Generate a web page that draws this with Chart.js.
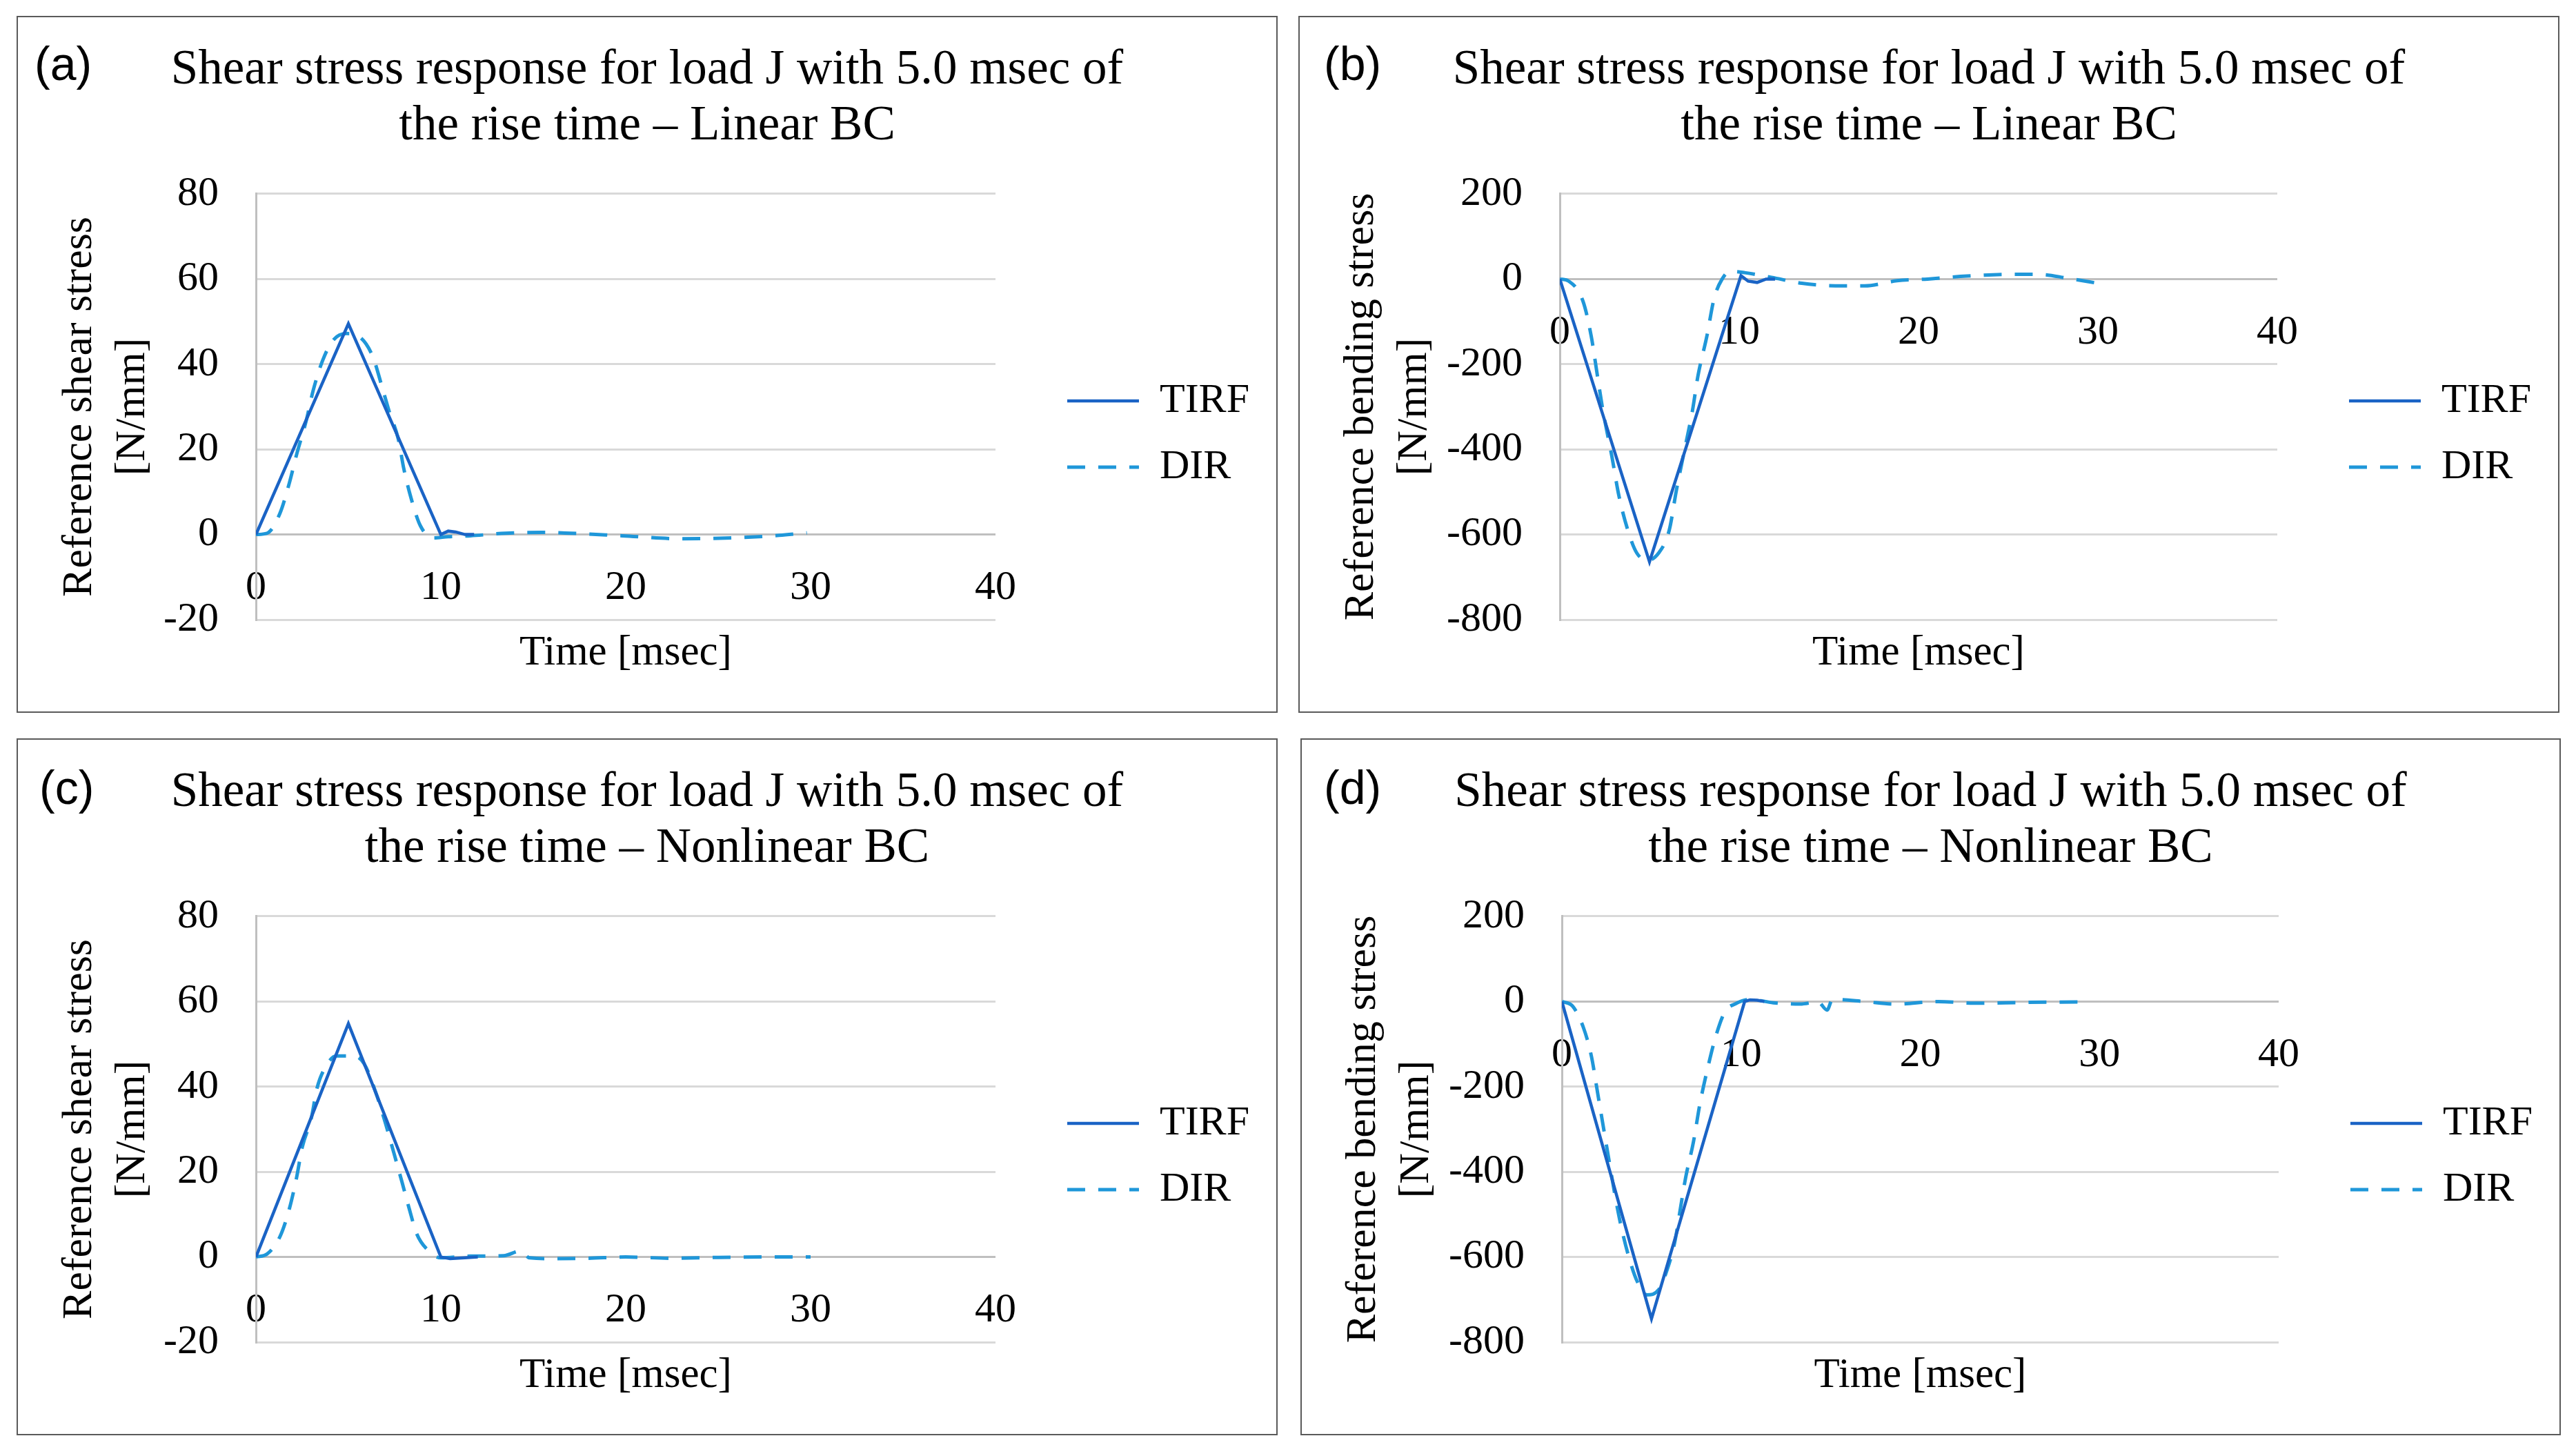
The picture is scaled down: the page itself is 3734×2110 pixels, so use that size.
<!DOCTYPE html>
<html>
<head>
<meta charset="utf-8">
<script src="https://cdn.jsdelivr.net/npm/chart.js@4/dist/chart.umd.min.js"></script>
<style>
  body { margin: 0; background: #fff; width: 3734px; height: 2110px; position: relative; overflow: hidden; }
  .frame { position: absolute; box-sizing: border-box; border: 2px solid #5a5a5a; z-index: 2; }
  .box { position: absolute; }
  .tag { position: absolute; font: 68px "Liberation Sans", Arial, sans-serif; line-height: 68px; color: #000; z-index: 3; }
</style>
</head>
<body>

<div class="box" style="left:24px;top:23px;width:1828px;height:1010px"><canvas id="chart-a"></canvas></div>
<div class="frame" style="left:24px;top:23px;width:1828px;height:1010px"></div>
<div class="tag" style="left:50px;top:58px">(a)</div>

<div class="box" style="left:1882px;top:23px;width:1828px;height:1010px"><canvas id="chart-b"></canvas></div>
<div class="frame" style="left:1882px;top:23px;width:1828px;height:1010px"></div>
<div class="tag" style="left:1919px;top:58px">(b)</div>

<div class="box" style="left:24px;top:1070px;width:1828px;height:1010px"><canvas id="chart-c"></canvas></div>
<div class="frame" style="left:24px;top:1070px;width:1828px;height:1010px"></div>
<div class="tag" style="left:57px;top:1107px">(c)</div>

<div class="box" style="left:1885px;top:1070px;width:1827px;height:1010px"><canvas id="chart-d"></canvas></div>
<div class="frame" style="left:1885px;top:1070px;width:1827px;height:1010px"></div>
<div class="tag" style="left:1919px;top:1107px">(d)</div>

<script>
'use strict';

// axis ticks
var timeTicks = [0, 10, 20, 30, 40];
var shearTicks = [-20, 0, 20, 40, 60, 80];
var bendTicks = [-800, -600, -400, -200, 0, 200];

// (a) shear, linear BC
var aTirfTime = [0, 5, 10, 10.4, 10.8, 11.3, 11.8];
var aTirfVal = [0, 49.5, 0, 0.8, 0.6, 0, 0];
var aDirTime = [0, 0.6, 1.3, 1.8, 2.2, 2.7, 3.1, 3.6, 4.15, 4.9, 5.5, 6.3, 6.8, 7.2, 7.7, 8.0, 8.4, 8.9, 9.6, 10.4, 11.6, 13.5, 15.5, 17, 19.8, 23, 25.8, 28.3, 29.8];
var aDirVal = [0, 0.3, 5, 12, 18.8, 26.4, 33.9, 40.8, 45.5, 47.2, 46.7, 42, 35, 29, 22.4, 15.4, 8.4, 2, -0.8, -0.5, -0.3, 0.3, 0.5, 0.3, -0.3, -1, -0.8, -0.2, 0.4];

// (b) bending, linear BC
var bTirfTime = [0, 5, 10.1, 10.5, 11, 11.5, 12];
var bTirfVal = [0, -664, 8, -5, -8, 0, 0];
var bDirTime = [0, 0.5, 1.3, 1.75, 2.1, 2.4, 2.9, 3.3, 3.9, 4.3, 4.85, 5.5, 6.1, 6.5, 6.95, 7.4, 7.7, 8.2, 8.6, 9.05, 9.5, 10.3, 11.8, 13.5, 15.7, 17, 18.8, 20.5, 22.7, 25, 26.7, 28.3, 30];
var bDirVal = [0, -5, -53, -134, -228, -308, -416, -510, -604, -644, -661, -644, -590, -496, -402, -308, -228, -134, -46, 0, 18, 15, 4, -10, -16, -16, -4, 0, 7, 11, 11, 2, -10];

// (c) shear, nonlinear BC
var cTirfTime = [0, 5, 10, 10.5, 11.3, 12];
var cTirfVal = [0, 54.8, 0, -0.4, -0.2, 0];
var cDirTime = [0, 0.6, 1.3, 1.8, 2.2, 2.5, 3.0, 3.3, 3.8, 4.35, 5.3, 5.85, 6.5, 7.0, 7.45, 7.9, 8.3, 8.7, 9.35, 10.0, 11.6, 13.4, 14.3, 14.8, 16.1, 18, 20, 22.5, 25, 27.5, 30];
var cDirVal = [0, 0.7, 4.8, 11.2, 18.7, 25.7, 32.7, 39.6, 44.9, 47.2, 47.2, 45.4, 38.4, 31.5, 24.6, 17.6, 11.2, 5.4, 1.4, -0.2, 0.2, 0.3, 1.4, -0.2, -0.4, -0.3, 0, -0.3, -0.1, 0, 0];

// (d) bending, nonlinear BC
var dTirfTime = [0, 5, 10.2, 10.5, 10.9, 11.3];
var dTirfVal = [0, -745, 0, 4, 3, 0];
var dDirTime = [0, 0.6, 1.2, 1.65, 2.0, 2.3, 2.65, 2.95, 3.3, 3.75, 4.2, 4.75, 5.4, 5.8, 6.3, 6.6, 6.9, 7.35, 7.7, 8.15, 8.6, 9.1, 9.7, 10.5, 11.8, 13.3, 14.3, 14.8, 15.1, 16.9, 18.6, 21, 23, 26, 29.5];
var dDirVal = [0, -11, -61, -129, -216, -291, -378, -452, -527, -602, -657, -689, -677, -639, -565, -490, -415, -328, -241, -154, -80, -24, -5, 5, -3, -6, -1, -20, 5, 0, -6, 0, -4, -2, -1];

var serif = '"Liberation Serif", "Times New Roman", serif';
Chart.defaults.font.family = serif;
Chart.defaults.color = '#000';

function pts(t, v) {
  return t.map(function (x, i) { return { x: x, y: v[i] }; });
}

// keep the dash pattern of each line in the legend sample
function legendLabels(chart) {
  var items = Chart.defaults.plugins.legend.labels.generateLabels(chart);
  items.forEach(function (it) {
    var ds = chart.data.datasets[it.datasetIndex];
    it.lineDash = ds.borderDash || [];
    it.lineWidth = ds.borderWidth;
    it.strokeStyle = ds.borderColor;
    it.pointStyle = 'line';
  });
  return items;
}

function makeChart(id, o) {
  var ctx = document.getElementById(id).getContext('2d');
  return new Chart(ctx, {
    type: 'line',
    data: {
      datasets: [{
        label: 'TIRF',
        data: pts(o.tirfT, o.tirfV),
        borderColor: '#1a63c5',
        borderWidth: 4.5,
        pointRadius: 0,
        tension: 0,
        fill: false
      }, {
        label: 'DIR',
        data: pts(o.dirT, o.dirV),
        borderColor: '#1f97d9',
        borderWidth: 5,
        borderDash: [26, 19],
        pointRadius: 0,
        cubicInterpolationMode: 'monotone',
        fill: false
      }]
    },
    options: {
      responsive: true,
      maintainAspectRatio: false,
      animation: false,
      events: [],
      layout: { padding: { left: 31, right: 31, top: 0, bottom: 0 } },
      plugins: {
        title: {
          display: true,
          text: o.title,
          color: '#000',
          font: { family: serif, size: 71, weight: 'normal', lineHeight: 1.14 },
          padding: { top: 38.5, bottom: 57.6 }
        },
        legend: {
          position: 'right',
          fullSize: false,
          title: { display: true, text: '', font: { size: 1 }, padding: { top: 78, bottom: 0 } },
          labels: {
            usePointStyle: true,
            pointStyle: 'line',
            pointStyleWidth: 104,
            padding: 36,
            color: '#000',
            font: { family: serif, size: 60 },
            generateLabels: legendLabels
          }
        },
        tooltip: { enabled: false }
      },
      scales: {
        x: {
          type: 'linear',
          position: { y: 0 },
          min: timeTicks[0],
          max: timeTicks[timeTicks.length - 1],
          ticks: { stepSize: timeTicks[1] - timeTicks[0], padding: 42, maxRotation: 0, color: '#000', font: { family: serif, size: 60 } },
          grid: { display: false, drawTicks: false },
          border: { display: true, color: '#bfbfbf', width: 3 }
        },
        x2: {
          type: 'linear',
          position: 'bottom',
          ticks: { display: false },
          grid: { display: false, drawTicks: false },
          border: { display: false },
          title: { display: true, text: 'Time [msec]', color: '#000', font: { family: serif, size: 61, lineHeight: 1.2 }, padding: { top: 0, bottom: 49 } },
          afterFit: function (s) { s.height = 135; }
        },
        y: {
          type: 'linear',
          position: 'left',
          min: o.ticks[0],
          max: o.ticks[o.ticks.length - 1],
          ticks: { stepSize: o.ticks[1] - o.ticks[0], padding: 54, color: '#000', font: { family: serif, size: 60 } },
          grid: { color: '#d9d9d9', lineWidth: 3, drawTicks: false },
          border: { color: '#bfbfbf', width: 3 },
          title: { display: true, text: o.yTitle, color: '#000', font: { family: serif, size: 62, lineHeight: 1.24 }, padding: { top: 22.6, bottom: 0 } },
          afterFit: function (s) { s.width = o.yWidth; }
        },
        // hidden spacer between plot and legend
        y2: {
          type: 'linear',
          position: 'right',
          display: false,
          afterFit: function (s) { s.width = 68; }
        }
      }
    }
  });
}

var titleLinear = ['Shear stress response for load J with 5.0 msec of', 'the rise time \u2013 Linear BC'];
var titleNonlinear = ['Shear stress response for load J with 5.0 msec of', 'the rise time \u2013 Nonlinear BC'];
var shearTitle = ['Reference shear stress', '[N/mm]'];
var bendTitle = ['Reference bending stress', '[N/mm]'];

makeChart('chart-a', { title: titleLinear, yTitle: shearTitle, ticks: shearTicks, yWidth: 316, tirfT: aTirfTime, tirfV: aTirfVal, dirT: aDirTime, dirV: aDirVal });
makeChart('chart-b', { title: titleLinear, yTitle: bendTitle, ticks: bendTicks, yWidth: 348, tirfT: bTirfTime, tirfV: bTirfVal, dirT: bDirTime, dirV: bDirVal });
makeChart('chart-c', { title: titleNonlinear, yTitle: shearTitle, ticks: shearTicks, yWidth: 316, tirfT: cTirfTime, tirfV: cTirfVal, dirT: cDirTime, dirV: cDirVal });
makeChart('chart-d', { title: titleNonlinear, yTitle: bendTitle, ticks: bendTicks, yWidth: 348, tirfT: dTirfTime, tirfV: dTirfVal, dirT: dDirTime, dirV: dDirVal });
</script>
</body>
</html>
